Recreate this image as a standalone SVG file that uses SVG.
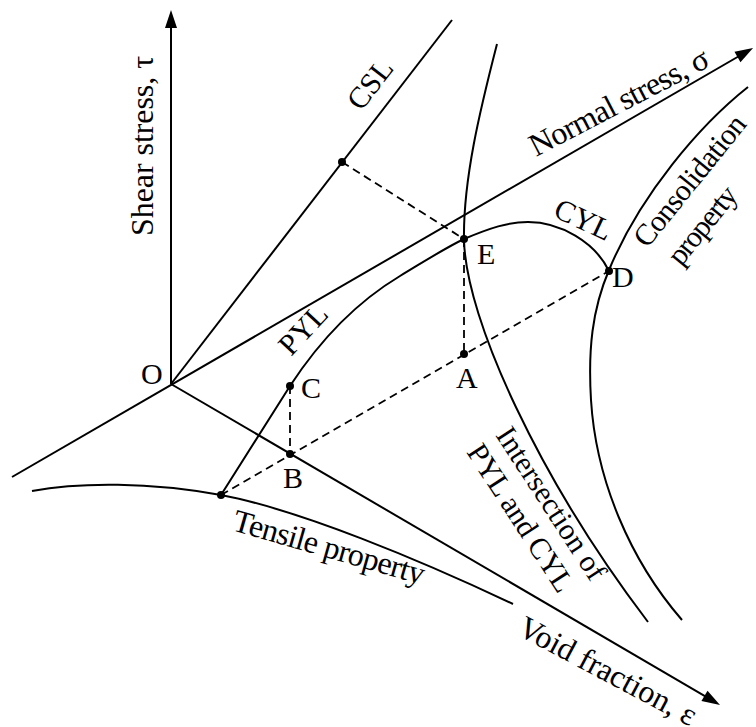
<svg xmlns="http://www.w3.org/2000/svg" width="756" height="727" viewBox="0 0 756 727">
<style>
.ln{fill:none;stroke:#000;stroke-width:2}
.ds{fill:none;stroke:#000;stroke-width:1.8;stroke-dasharray:8 5}
.ax{fill:none;stroke:#000;stroke-width:2;marker-end:url(#arr)}
.pt{fill:#000}
text{font-family:"Liberation Serif","Times New Roman",serif;font-size:30px;fill:#000}
.big{font-size:32px}
</style>
<defs>
<marker id="arr" markerUnits="userSpaceOnUse" markerWidth="20" markerHeight="12" refX="2" refY="6" orient="auto" overflow="visible">
<path d="M0,0 L18,6 L0,12 Z" fill="#000"/>
</marker>
</defs>
<rect width="756" height="727" fill="#fff"/>
<g id="connectors">
<line class="ax" x1="171" y1="384" x2="171" y2="26"/>
<line class="ax" x1="12" y1="477" x2="739.2" y2="56"/>
<line class="ax" x1="171" y1="384" x2="706.2" y2="696.9"/>
<line class="ln" x1="171" y1="384" x2="452" y2="20"/>
<path class="ln" d="M221,495 L290,386 C322,337 360,300 400,276 C425,261 445,248 464,239 C490,228 508,222 528,222 C560,222 595,242 609,271"/>
<path class="ln" d="M748,87 C700,125 640,195 609,270 C592,310 588,350 591,400 C596,480 630,560 682,620"/>
<path class="ln" d="M497,44 C480,110 463,180 464,240 C466,320 540,480 648,622"/>
<path class="ln" d="M32,491 C80,482 150,482 221,495 C300,510 420,560 513,604"/>
<line class="ds" x1="342" y1="162" x2="464" y2="239"/>
<line class="ds" x1="464" y1="239" x2="464" y2="354"/>
<line class="ds" x1="290" y1="386" x2="290" y2="454"/>
<line class="ds" x1="221" y1="495" x2="609" y2="271"/>
</g>
<g id="O"><text x="141" y="384">O</text></g>
<g id="CSLpoint"><circle class="pt" cx="342" cy="162" r="4"/></g>
<g id="E"><circle class="pt" cx="464" cy="239" r="4"/><text x="477" y="264">E</text></g>
<g id="D"><circle class="pt" cx="609" cy="271" r="4"/><text x="612" y="287">D</text></g>
<g id="A"><circle class="pt" cx="464" cy="354" r="4"/><text x="456" y="388">A</text></g>
<g id="C"><circle class="pt" cx="290" cy="386" r="4"/><text x="301" y="398">C</text></g>
<g id="B"><circle class="pt" cx="290" cy="454" r="4"/><text x="283" y="488">B</text></g>
<g id="T"><circle class="pt" cx="221" cy="495" r="4"/></g>
<g id="labels">
<text class="big" transform="translate(153,236) rotate(-90)" textLength="180">Shear stress, τ</text>
<text class="big" transform="translate(536,157) rotate(-27.5)" textLength="198">Normal stress, σ</text>
<text class="big" transform="translate(516,634) rotate(28)" textLength="197">Void fraction, ε</text>
<text transform="translate(361,112) rotate(-52)">CSL</text>
<text transform="translate(291,357) rotate(-47)">PYL</text>
<text transform="translate(552,216) rotate(25)">CYL</text>
<text transform="translate(647,249) rotate(-51)" textLength="160">Consolidation</text>
<text transform="translate(681,267) rotate(-51)" textLength="92">property</text>
<text transform="translate(495,435) rotate(57)" textLength="176">Intersection of</text>
<text transform="translate(466,452) rotate(57)" textLength="170">PYL and CYL</text>
<text class="big" transform="translate(231,530) rotate(16)" textLength="198">Tensile property</text>
</g>
</svg>
